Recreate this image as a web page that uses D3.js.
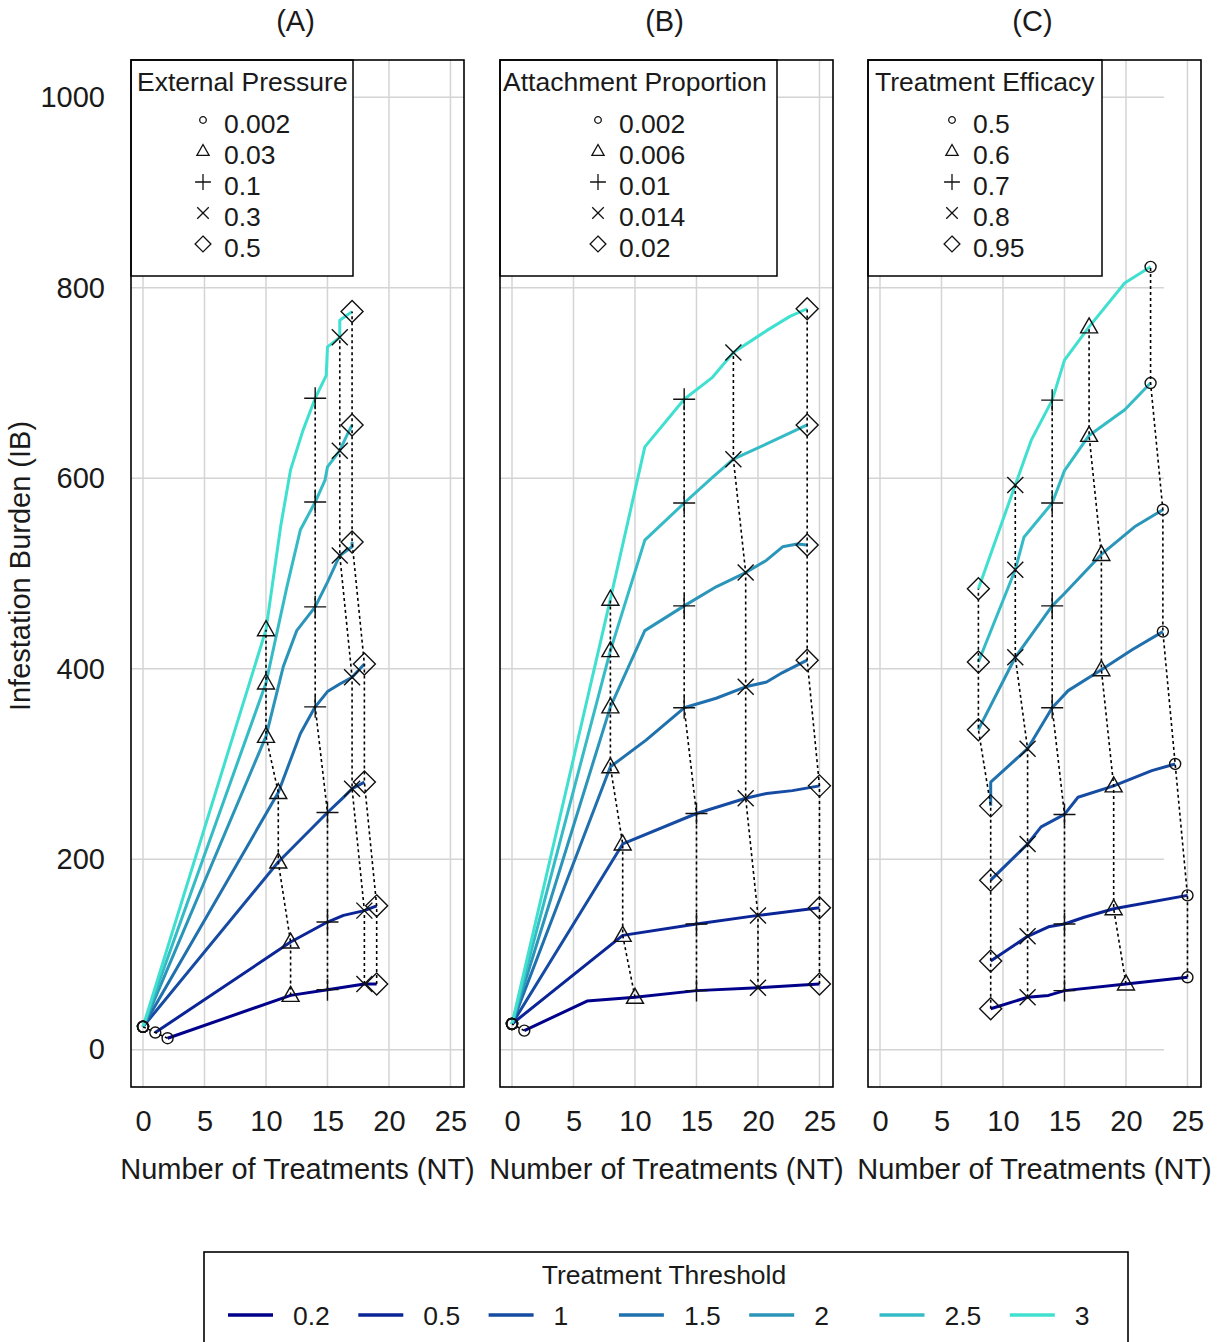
<!DOCTYPE html>
<html><head><meta charset="utf-8">
<script src="https://cdn.jsdelivr.net/npm/d3@7"></script>
<style>body{margin:0;background:#fff;} text{font-family:"Liberation Sans",Arial,sans-serif;fill:#1a1a1a;}</style>
</head><body>
<script>
// ---------- DATA ----------
const thresholds = ["0.2","0.5","1","1.5","2","2.5","3"];
const xTicks = [0,5,10,15,20,25];
const yTicks = [0,200,400,600,800,1000];
const panelTitles = ["(A)","(B)","(C)"];
const legendTitles = ["External Pressure","Attachment Proportion","Treatment Efficacy"];
const legendA = ["0.002","0.03","0.1","0.3","0.5"];
const legendB = ["0.002","0.006","0.01","0.014","0.02"];
const legendC = ["0.5","0.6","0.7","0.8","0.95"];

// lines: one array of [NT, IB] per threshold (0.2 ... 3)
const linesA = [
  [[2,12],[12,57],[15,63],[18,69],[19,69]],
  [[1,18],[12,113],[15,134],[16.3,141],[18,146],[19,151]],
  [[0,24],[11,197],[13,223],[15,249],[16.3,265],[17,274],[18,281]],
  [[0,24],[11,270],[12.8,332],[14,360],[15,376],[16,384],[17,391],[18,405]],
  [[0,24],[10,329],[11.4,402],[12.5,440],[14,465],[15,491],[16,519],[17,528],[17,533]],
  [[0,24],[10,385],[11.7,486],[12.8,546],[14,575],[14.8,598],[15,612],[16,629],[16.5,643],[17,656]],
  [[0,24],[10,441],[11.2,550],[12,609],[13,650],[14,684],[14.9,708],[15,738],[16,748],[16,766],[17,775]]
];
// markers: [parameter level][threshold] -> [NT, IB]
const markersA = [
  [[2,12],[1,18],[0,24],[0,24],[0,24],[0,24],[0,24]],
  [[12,57],[12,113],[11,197],[11,270],[10,329],[10,385],[10,441]],
  [[15,63],[15,134],[15,249],[14,360],[14,465],[14,575],[14,684]],
  [[18,69],[18,146],[17,274],[17,391],[16,519],[16,629],[16,748]],
  [[19,69],[19,151],[18,281],[18,405],[17,533],[17,656],[17,775]]
];
const linesB = [
  [[1,20],[6.1,51],[10,55],[15,62],[20,65],[25,69]],
  [[0,27],[9,120],[15,132],[20,141],[25,149]],
  [[0,27],[9,216],[15,248],[19,264],[20.7,269],[22.8,272],[25,277]],
  [[0,27],[8,297],[10.9,325],[14,359],[16.6,369],[19,381],[20.7,386],[22,396],[24,409]],
  [[0,27],[8,360],[10.8,440],[14,466],[16.6,486],[19,501],[20.7,514],[22,528],[23.2,531],[24,530]],
  [[0,27],[8,419],[10.8,535],[14,574],[16.3,601],[18,620],[20.7,636],[24,656]],
  [[0,27],[8,473],[10.8,633],[14,683],[16.3,706],[18,732],[20.7,755],[22.6,770],[24,778]]
];
const markersB = [
  [[1,20],[0,27],[0,27],[0,27],[0,27],[0,27],[0,27]],
  [[10,55],[9,120],[9,216],[8,297],[8,360],[8,419],[8,473]],
  [[15,62],[15,132],[15,248],[14,359],[14,466],[14,574],[14,683]],
  [[20,65],[20,141],[19,264],[19,381],[19,501],[18,620],[18,732]],
  [[25,69],[25,149],[25,277],[24,409],[24,530],[24,656],[24,778]]
];
const linesC = [
  [[9,43],[12,55],[13.7,57],[15,62],[20,69],[25,76]],
  [[9,93],[12,119],[13.7,129],[15,132],[16.6,139],[19,148],[25,162]],
  [[9,178],[12,216],[13.1,234],[15,247],[16.1,265],[19,277],[22.1,293],[24,300]],
  [[9,256],[9,281],[12,316],[14,359],[15.3,377],[18,399],[20.5,420],[23,439]],
  [[8,336],[11,412],[14,466],[15,479],[18,520],[20.7,549],[23,567]],
  [[8,407],[11,504],[11.7,538],[14,574],[15,608],[17,645],[19.9,672],[22,700]],
  [[8,484],[11,593],[12.3,640],[14,682],[15,724],[17,759],[19.9,805],[22,822]]
];
const markersC = [
  [[25,76],[25,162],[24,300],[23,439],[23,567],[22,700],[22,822]],
  [[20,69],[19,148],[19,277],[18,399],[18,520],[17,645],[17,759]],
  [[15,62],[15,132],[15,247],[14,359],[14,466],[14,574],[14,682]],
  [[12,55],[12,119],[12,216],[12,316],[11,412],[11,504],[11,593]],
  [[9,43],[9,93],[9,178],[9,256],[8,336],[8,407],[8,484]]
];

// ---------- STYLE / LAYOUT ----------
const palette = ["#00008B","#0B2597","#154BA2","#2070AE","#2B95B9","#35BBC5","#40E0D0"];
const panels = [
  {left:131, lines:linesA, markers:markersA, legend:legendA, legW:222, symX:72, gridEnd:null},
  {left:500, lines:linesB, markers:markersB, legend:legendB, legW:277, symX:98, gridEnd:null},
  {left:868, lines:linesC, markers:markersC, legend:legendC, legW:234, symX:84, gridEnd:23.1}
];
const boxW = 333, plotTop = 60, plotBottom = 1087;
const shapes = ["circle","triangle","plus","cross","diamond"];

function symbolPath(type, s){
  switch(type){
    case "circle": return d3.arc()({innerRadius:0,outerRadius:5.5*s,startAngle:0,endAngle:2*Math.PI});
    case "triangle": {const a=9*s,b=8.5*s,c=6*s; return `M0,${-a}L${b},${c}L${-b},${c}Z`;}
    case "plus": {const a=11*s; return `M${-a},0H${a}M0,${-a}V${a}`;}
    case "cross": {const a=8*s; return `M${-a},${-a}L${a},${a}M${-a},${a}L${a},${-a}`;}
    case "diamond": {const a=11*s; return `M0,${-a}L${a},0L0,${a}L${-a},0Z`;}
  }
}

const svg = d3.select("body").append("svg").attr("width",1219).attr("height",1342);
svg.append("rect").attr("width",1219).attr("height",1342).attr("fill","#fff");

const yScale = d3.scaleLinear().domain([-39.2,1039.2]).range([plotBottom,plotTop]);

panels.forEach((p,i)=>{
  const x = d3.scaleLinear().domain([-0.976,26.1]).range([p.left,p.left+boxW]);
  const y = yScale;
  const g = svg.append("g");
  // grid
  g.selectAll(".vg").data(xTicks).join("line")
    .attr("x1",d=>x(d)).attr("x2",d=>x(d)).attr("y1",plotTop).attr("y2",plotBottom)
    .attr("stroke","#d4d4d4").attr("stroke-width",1.5);
  g.selectAll(".hg").data(yTicks).join("line")
    .attr("x1",p.left).attr("x2",p.gridEnd==null? p.left+boxW : x(p.gridEnd))
    .attr("y1",d=>y(d)).attr("y2",d=>y(d))
    .attr("stroke","#d4d4d4").attr("stroke-width",1.5);
  // lines
  const line = d3.line().x(d=>x(d[0])).y(d=>y(d[1]));
  p.lines.forEach((ln,k)=>{
    g.append("path").attr("d",line(ln)).attr("fill","none")
      .attr("stroke",palette[k]).attr("stroke-width",3).attr("stroke-linejoin","round");
  });
  // dotted iso lines
  p.markers.forEach(ms=>{
    g.append("path").attr("d",line(ms)).attr("fill","none")
      .attr("stroke","#000").attr("stroke-width",1.6).attr("stroke-dasharray","3,3");
  });
  // markers
  p.markers.forEach((ms,m)=>{
    g.selectAll(null).data(ms).join("path")
      .attr("transform",d=>`translate(${x(d[0])},${y(d[1])})`)
      .attr("d",symbolPath(shapes[m],1))
      .attr("fill","none").attr("stroke","#111").attr("stroke-width",1.4);
  });
  // legend box
  const lg = g.append("g").attr("transform",`translate(${p.left},${plotTop})`);
  lg.append("rect").attr("width",p.legW).attr("height",216).attr("fill","#fff")
    .attr("stroke","#000").attr("stroke-width",1.5);
  lg.append("text").attr("x",i==0?6:(i==1?3:7)).attr("y",31).attr("font-size",26.5).text(legendTitles[i]);
  p.legend.forEach((lab,m)=>{
    const cy = 63 + m*31;
    lg.append("path").attr("transform",`translate(${p.symX},${cy-3})`)
      .attr("d",symbolPath(shapes[m], m==0?0.6:0.72))
      .attr("fill","none").attr("stroke","#111").attr("stroke-width",1.3);
    lg.append("text").attr("x",p.symX+21).attr("y",cy+9.5).attr("font-size",26.5).text(lab);
  });
  // box
  g.append("rect").attr("x",p.left).attr("y",plotTop).attr("width",boxW).attr("height",plotBottom-plotTop)
    .attr("fill","none").attr("stroke","#000").attr("stroke-width",1.6);
  // x axis
  const ax = g.append("g").attr("transform",`translate(0,${plotBottom})`)
    .call(d3.axisBottom(x).tickValues(xTicks).tickSize(0).tickPadding(23).tickFormat(d3.format("d")));
  ax.select(".domain").remove();
  ax.selectAll("text").attr("font-size",29).attr("font-family","Liberation Sans, Arial, sans-serif").attr("fill","#1a1a1a");
  // x title
  g.append("text").attr("x",p.left+boxW/2).attr("y",1179).attr("text-anchor","middle")
    .attr("font-size",29).text("Number of Treatments (NT)");
  // panel title
  g.append("text").attr("x",p.left+boxW/2-2).attr("y",31).attr("text-anchor","middle")
    .attr("font-size",29).text(panelTitles[i]);
  if(i==0){
    const ay = g.append("g").attr("transform",`translate(${p.left},0)`)
      .call(d3.axisLeft(y).tickValues(yTicks).tickSize(0).tickPadding(26).tickFormat(d3.format("d")));
    ay.select(".domain").remove();
    ay.selectAll("text").attr("font-size",29).attr("font-family","Liberation Sans, Arial, sans-serif").attr("fill","#1a1a1a");
    g.append("text").attr("transform","translate(30,566) rotate(-90)").attr("text-anchor","middle")
      .attr("font-size",29).text("Infestation Burden (IB)");
  }
});

// bottom legend
const bl = svg.append("g");
bl.append("rect").attr("x",204).attr("y",1252).attr("width",924).attr("height",120)
  .attr("fill","#fff").attr("stroke","#000").attr("stroke-width",1.6);
bl.append("text").attr("x",664).attr("y",1284).attr("text-anchor","middle").attr("font-size",26.5).text("Treatment Threshold");
thresholds.forEach((t,k)=>{
  const x0 = 228 + k*130.3;
  bl.append("line").attr("x1",x0).attr("x2",x0+45).attr("y1",1315).attr("y2",1315)
    .attr("stroke",palette[k]).attr("stroke-width",3.5);
  bl.append("text").attr("x",x0+65).attr("y",1324.5).attr("font-size",26.5).text(t);
});
</script>
</body></html>
